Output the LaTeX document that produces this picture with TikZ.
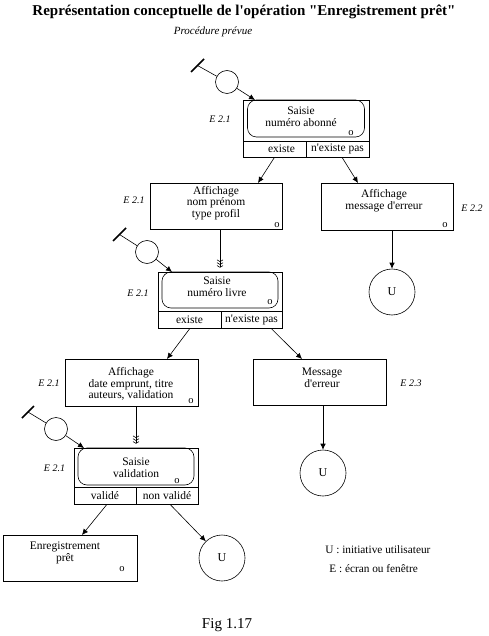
\documentclass[tikz,border=0pt]{standalone}
\usepackage{fontspec}
\setmainfont{Liberation Serif}[Ligatures=TeXOff]
\usetikzlibrary{arrows.meta}
\begin{document}
\begin{tikzpicture}[x=1pt,y=-1pt,line width=0.6pt,
  box/.style={draw,rectangle,inner sep=0pt},
  rbox/.style={draw,rectangle,rounded corners=9pt,inner sep=0pt},
  cell/.style={draw,rectangle,inner sep=0pt,font=\fontsize{11.5}{11.5}\selectfont},
  txt/.style={font=\fontsize{11.5}{11.7}\selectfont,align=center,inner sep=0pt},
  lbl/.style={font=\fontsize{10}{10}\selectfont\itshape,inner sep=0pt},
  mk/.style={font=\fontsize{10.5}{10.5}\selectfont,inner sep=0pt},
  ucirc/.style={draw,circle,minimum size=46pt,inner sep=0pt,font=\fontsize{12}{12}\selectfont},
  scirc/.style={draw,circle,minimum size=23pt,inner sep=0pt},
  stick/.style={line width=1.6pt},
  arr/.style={-{Latex[length=6pt,width=5.5pt]}},
  chev/.style={-{Straight Barb[length=1.8pt,width=6pt,sep=0.4pt]Straight Barb[length=1.8pt,width=6pt,sep=0.4pt]Straight Barb[length=1.8pt,width=6pt]},shorten >=4pt}
]
\useasboundingbox (0,0) rectangle (488,636);

% titles
\node[inner sep=0pt,font=\fontsize{15}{15}\selectfont\bfseries] (title) at (244,12) {Représentation conceptuelle de l'opération "Enregistrement prêt"};
\node[inner sep=0pt,font=\fontsize{11}{11}\selectfont\itshape] (proc) at (213,32) {Procédure prévue};

% ---------- Saisie numéro abonné
\node[box,minimum width=126pt,minimum height=41pt] (s1) at (306,120.5) {};
\node[rbox,minimum width=117pt,minimum height=37pt] (s1in) at (306,118.5) {};
\node[txt] (s1t) at (301,117) {Saisie\\numéro abonné};
\node[mk] (s1o) at (351,133) {o};
\node[cell,minimum width=63pt,minimum height=16pt] (s1a) at (274.5,149) {\hspace*{14pt}existe};
\node[cell,minimum width=63pt,minimum height=16pt] (s1b) at (337.5,149) {n'existe pas};
\node[lbl] (s1l) at (220,119) {E 2.1};

\draw[stick] (191,72) -- (204,59);
\coordinate (k1) at (197.5,65.5);
\node[scirc] (c1) at (227,82) {};
\coordinate (t1) at (255,100);
\draw (k1) -- (c1);
\draw[arr] (c1) -- (t1);

% ---------- Affichage nom prénom
\node[box,minimum width=132pt,minimum height=46pt] (a2) at (216,206) {};
\node[txt] (a2t) at (216,203) {Affichage\\nom prénom\\type profil};
\node[mk] (a2o) at (277,225) {o};
\node[lbl] (a2l) at (134,200) {E 2.1};

% ---------- Affichage message d'erreur
\node[box,minimum width=132pt,minimum height=47pt] (m1) at (387,206.5) {};
\node[txt] (m1t) at (384,201) {Affichage\\message d'erreur};
\node[mk] (m1o) at (445,225) {o};
\node[lbl] (m1l) at (472,208) {E 2.2};
\node[ucirc] (u1) at (392,292) {U};

\coordinate (e1) at (258,183);
\coordinate (e2) at (358,183);
\draw[arr] (s1a.south) -- (e1);
\draw[arr] ([xshift=4.5pt]s1b.south) -- (e2);
\draw[arr] (u1 |- m1.south) -- (u1.north);

% ---------- Saisie numéro livre
\node[box,minimum width=124pt,minimum height=39pt] (s3) at (220,291.5) {};
\node[rbox,minimum width=116pt,minimum height=36pt] (s3in) at (220,290) {};
\node[txt] (s3t) at (217,287) {Saisie\\numéro livre};
\node[mk] (s3o) at (270,302) {o};
\node[cell,minimum width=63pt,minimum height=17pt] (s3a) at (189.5,319.5) {existe};
\node[cell,minimum width=61pt,minimum height=17pt] (s3b) at (251.5,319.5) {n'existe pas};
\node[lbl] (s3l) at (138,293) {E 2.1};
\draw[chev] (s3.north |- a2.south) -- (s3.north);

\draw[stick] (113,241) -- (126,228);
\coordinate (k3) at (119.5,234.5);
\node[scirc] (c3) at (147,252) {};
\coordinate (t3) at (172,272);
\draw (k3) -- (c3);
\draw[arr] (c3) -- (t3);

% ---------- Affichage date emprunt
\node[box,minimum width=133pt,minimum height=47pt] (a4) at (131.5,382.5) {};
\node[txt] (a4t) at (131,384) {Affichage\\date emprunt, titre\\auteurs, validation};
\node[mk] (a4o) at (191,401) {o};
\node[lbl] (a4l) at (49,383) {E 2.1};

% ---------- Message d'erreur
\node[box,minimum width=133pt,minimum height=46pt] (m2) at (319.5,382) {};
\node[txt] (m2t) at (322,378) {Message\\d'erreur};
\node[lbl] (m2l) at (411,383) {E 2.3};
\node[ucirc] (u2) at (323,473) {U};

\coordinate (e3) at (167,359);
\coordinate (e4) at (302,359);
\draw[arr] ([xshift=0.5pt]s3a.south) -- (e3);
\draw[arr] ([xshift=19.5pt]s3b.south) -- (e4);
\draw[arr] (u2 |- m2.south) -- (u2.north);

% ---------- Saisie validation
\node[box,minimum width=124pt,minimum height=39pt] (s5) at (136,467.5) {};
\node[rbox,minimum width=116pt,minimum height=37pt] (s5in) at (136,466.5) {};
\node[txt] (s5t) at (136,468) {Saisie\\validation};
\node[mk] (s5o) at (177,481) {o};
\node[cell,minimum width=62pt,minimum height=17pt] (s5a) at (105,495.5) {validé};
\node[cell,minimum width=62pt,minimum height=17pt] (s5b) at (167,495.5) {non validé};
\node[lbl] (s5l) at (54.5,468) {E 2.1};
\draw[chev] (s5.north |- a4.south) -- (s5.north);

\draw[stick] (22,418) -- (34,406);
\coordinate (k5) at (28,412);
\node[scirc] (c5) at (56,429) {};
\coordinate (t5) at (84,448);
\draw (k5) -- (c5);
\draw[arr] (c5) -- (t5);

% ---------- Enregistrement prêt
\node[box,minimum width=134pt,minimum height=46pt] (en) at (70,558) {};
\node[txt] (ent) at (65,553) {Enregistrement\\prêt};
\node[mk] (eno) at (122,569) {o};
\node[ucirc] (u3) at (222,558) {U};

\coordinate (e5) at (82,535);
\draw[arr] ([xshift=2pt]s5a.south) -- (e5);
\draw[arr] ([xshift=3pt]s5b.south) -- (u3);

% legend
\node[anchor=west,inner sep=0pt,font=\fontsize{11.3}{11.3}\selectfont] (lg1) at (325,550) {U : initiative utilisateur};
\node[anchor=west,inner sep=0pt,font=\fontsize{11.3}{11.3}\selectfont] (lg2) at (329,569) {E : écran ou fenêtre};
\node[inner sep=0pt,font=\fontsize{15}{15}\selectfont] (fig) at (227,625) {Fig 1.17};
\end{tikzpicture}
\end{document}
